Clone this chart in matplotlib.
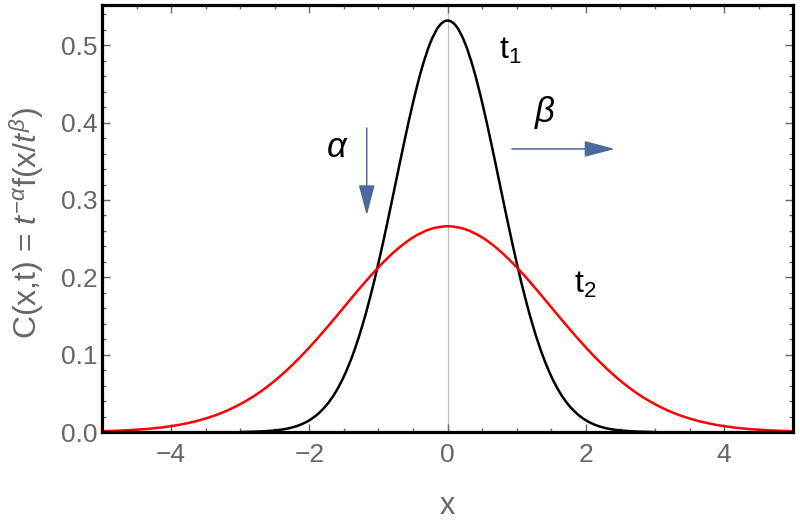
import numpy as np
import matplotlib
matplotlib.use("Agg")
import matplotlib.pyplot as plt
from matplotlib.ticker import MultipleLocator, FormatStrFormatter
from matplotlib.path import Path
from matplotlib.patches import PathPatch

plt.rcParams['font.family'] = ['Liberation Sans', 'DejaVu Sans']
plt.rcParams['mathtext.fontset'] = 'custom'
plt.rcParams['mathtext.rm'] = 'Liberation Sans'
plt.rcParams['mathtext.it'] = 'Liberation Sans:italic'

# values
# t1 curve, sampled every 0.125 from -3 to 3 (lies on the axis outside)
t1_x = np.linspace(-3, 3, 49)
t1_half = [0.0, 0.0003, 0.0006, 0.0012, 0.0021, 0.0035, 0.0059, 0.0096,
           0.0152, 0.0234, 0.0350, 0.0509, 0.0720, 0.0991, 0.1327, 0.1727,
           0.2187, 0.2694, 0.3227, 0.3759, 0.4260, 0.4695, 0.5032, 0.5247]
t1_peak = 0.532
t1_y = t1_half + [t1_peak] + t1_half[::-1]

# t2 curve, sampled every 0.25 from -5 to 5
t2_x = np.linspace(-5, 5, 41)
t2_half = [0.0010, 0.0018, 0.0030, 0.0048, 0.0076, 0.0117, 0.0175, 0.0254,
           0.0360, 0.0495, 0.0663, 0.0864, 0.1094, 0.1347, 0.1613, 0.1880,
           0.2130, 0.2347, 0.2516, 0.2623]
t2_peak = 0.266
t2_y = t2_half + [t2_peak] + t2_half[::-1]

gray = '#666666'
arrow_blue = '#4a6a9c'


def smooth_path(xs, ys):
    # smooth curve through the read points (cubic bezier pieces)
    p = np.column_stack([xs, ys])
    n = len(p)
    verts = [p[0]]
    codes = [Path.MOVETO]
    for i in range(n - 1):
        p0 = p[max(i - 1, 0)]
        p1 = p[i]
        p2 = p[i + 1]
        p3 = p[min(i + 2, n - 1)]
        verts += [p1 + (p2 - p0) / 6, p2 - (p3 - p1) / 6, p2]
        codes += [Path.CURVE4] * 3
    return Path(verts, codes)


fig = plt.figure(figsize=(8, 5.2), dpi=100)
ax = fig.add_axes([0.1275, 0.1692, 0.864, 0.821])

ax.axvline(0, color='#c0c0c0', lw=0.9, zorder=1)
ax.add_patch(PathPatch(smooth_path(t1_x, t1_y), fill=False, edgecolor='black', lw=1.8, zorder=3))
ax.add_patch(PathPatch(smooth_path(t2_x, t2_y), fill=False, edgecolor='red', lw=1.8, zorder=3))

ax.set_xlim(-5, 5)
ax.set_ylim(0, 0.552)

ax.xaxis.set_major_locator(MultipleLocator(2))
ax.xaxis.set_minor_locator(MultipleLocator(0.5))
ax.yaxis.set_major_locator(MultipleLocator(0.1))
ax.yaxis.set_minor_locator(MultipleLocator(0.02))
ax.yaxis.set_major_formatter(FormatStrFormatter('%.1f'))

ax.tick_params(which='both', direction='in', top=True, right=True,
               color=gray, labelcolor=gray, labelsize=19)
ax.tick_params(which='major', length=6, width=1.0)
ax.tick_params(which='minor', length=3, width=1.0)
ax.tick_params(axis='x', which='both', pad=8)
ax.tick_params(axis='y', which='both', pad=3)

for s in ax.spines.values():
    s.set_linewidth(2.3)
    s.set_color('black')
    s.set_zorder(4)

fig.text(447 / 800, 6 / 520, 'x', color=gray, fontsize=22, ha='center', va='baseline')
fig.text(27 / 800, (520 - 223) / 520, r'C(x,t) = $t^{-\alpha}$f(x/$t^{\beta}$)',
         color=gray, fontsize=23, rotation=90, ha='center', va='center')

ax.text(0.75, 0.483, r'$\mathregular{t_1}$', fontsize=23, color='black', va='baseline')
ax.text(1.83, 0.18, r'$\mathregular{t_2}$', fontsize=23, color='black', va='baseline')
ax.text(-1.59, 0.368, r'$\alpha$', fontsize=25, ha='center', va='center')
ax.text(1.41, 0.413, r'$\beta$', fontsize=25, ha='center', va='center')

head = '-|>,head_length=1.9,head_width=0.5'
ax.annotate('', xy=(-1.17, 0.280), xytext=(-1.17, 0.393),
            arrowprops=dict(arrowstyle=head, color=arrow_blue, lw=1.1, shrinkA=0, shrinkB=0))
ax.annotate('', xy=(2.42, 0.366), xytext=(0.93, 0.366),
            arrowprops=dict(arrowstyle=head, color=arrow_blue, lw=1.1, shrinkA=0, shrinkB=0))

fig.savefig('out.png', dpi=100)
